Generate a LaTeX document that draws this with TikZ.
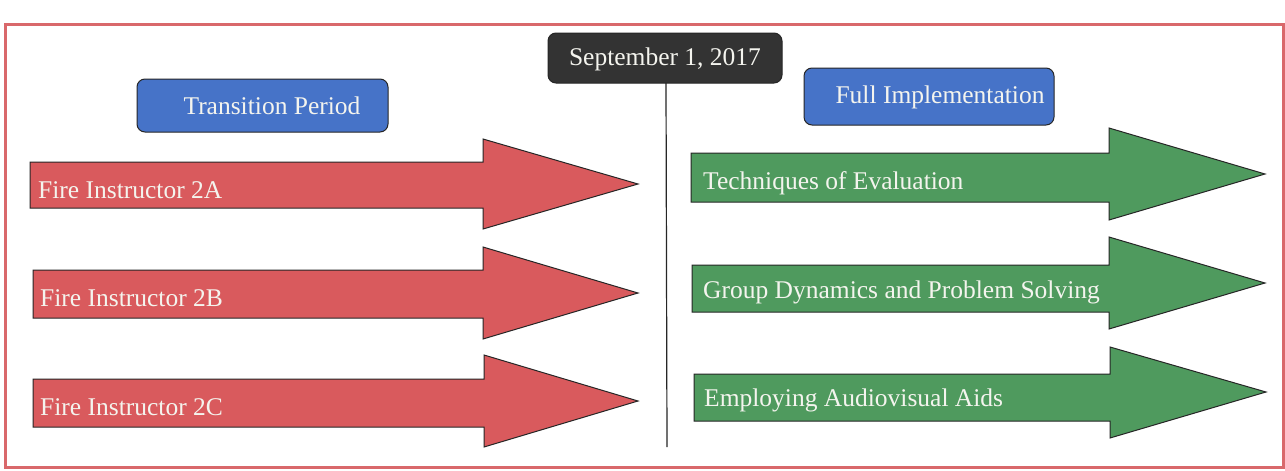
\documentclass[tikz,border=0pt]{standalone}
\usepackage{fontspec}
\setmainfont{Liberation Serif}
\definecolor{framered}{HTML}{D9686B}
\definecolor{redfill}{HTML}{D95A5D}
\definecolor{greenfill}{HTML}{4F9A5E}
\definecolor{bluefill}{HTML}{4673C8}
\definecolor{darkfill}{HTML}{333333}
\definecolor{txtlight}{HTML}{F4F4EE}
\begin{document}
\begin{tikzpicture}[x=1pt,y=-1pt,
  frame/.style={draw=framered,line width=3pt},
  redarrow/.style={fill=redfill,draw=black!85,line width=1pt,line join=miter},
  greenarrow/.style={fill=greenfill,draw=black!85,line width=1pt,line join=miter},
  headerbox/.style={rounded corners=8pt,draw=black!85,line width=1pt},
  bigtext/.style={font=\fontsize{25.5}{28}\selectfont,text=txtlight,inner sep=0pt},
  arrowtext/.style={bigtext,anchor=base west},
  timeline/.style={draw=black!85,line width=1.2pt}]
\useasboundingbox (0,0) rectangle (1285,471);
\fill[white] (0,0) rectangle (1285,471);
\draw[frame] (5,24) rectangle (1283,467);

% header boxes
\path[headerbox,fill=bluefill] (137,79) rectangle (388,132);
\node[bigtext] (trans) at (272,106) {Transition Period};
\path[headerbox,fill=darkfill] (548,33) rectangle (782,83);
\node[bigtext] (sept) at (665,59) {September 1, 2017};
\coordinate (septbot) at (666,83);
\path[headerbox,fill=bluefill] (804,68) rectangle (1054,125);
\node[bigtext] (full) at (940,97) {Full Implementation};

% timeline
\coordinate (lineend) at (667,447);
\draw[timeline] (septbot) -- (lineend);

% red arrows
\draw[redarrow] (30,162) -- (483,162) -- (483,139) -- (638,184) -- (483,229) -- (483,208) -- (30,208) -- cycle;
\node[arrowtext] (a2a) at (38,198) {Fire Instructor 2A};
\draw[redarrow] (33,270) -- (483,270) -- (483,247) -- (638,293) -- (483,339) -- (483,318) -- (33,318) -- cycle;
\node[arrowtext] (a2b) at (40,306) {Fire Instructor 2B};
\draw[redarrow] (33,379) -- (484,379) -- (484,355) -- (638,401) -- (484,447) -- (484,427) -- (33,427) -- cycle;
\node[arrowtext] (a2c) at (40,415) {Fire Instructor 2C};

% green arrows
\draw[greenarrow] (691,153) -- (1109,153) -- (1109,128) -- (1265,174) -- (1109,220) -- (1109,202) -- (691,202) -- cycle;
\node[arrowtext] (g1) at (703,189) {Techniques of Evaluation};
\draw[greenarrow] (692,265) -- (1109,265) -- (1109,237) -- (1265,283) -- (1109,329) -- (1109,312) -- (692,312) -- cycle;
\node[arrowtext] (g2) at (703,298) {Group Dynamics and Problem Solving};
\draw[greenarrow] (694,374) -- (1110,374) -- (1110,347) -- (1266,392) -- (1110,438) -- (1110,421) -- (694,421) -- cycle;
\node[arrowtext] (g3) at (704,406) {Employing Audiovisual Aids};
\end{tikzpicture}
\end{document}
